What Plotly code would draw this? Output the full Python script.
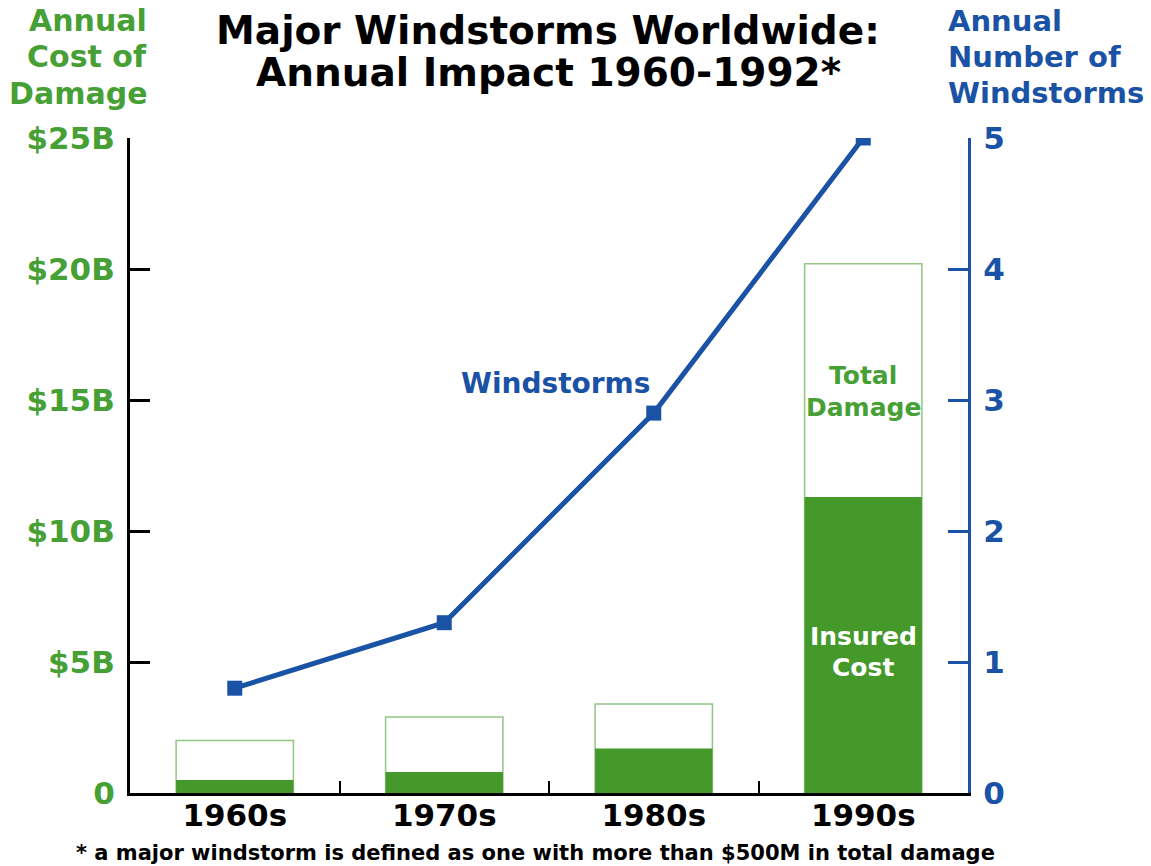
import plotly.graph_objects as go

decades = ["1960s", "1970s", "1980s", "1990s"]
total_damage = [2.0, 2.9, 3.4, 20.2]      # $B
insured_cost = [0.5, 0.8, 1.7, 11.3]      # $B
windstorms = [0.8, 1.3, 2.9, 5.0]         # annual number
left_ticks = [0, 5, 10, 15, 20, 25]
left_ticktext = ["0", "$5B", "$10B", "$15B", "$20B", "$25B"]
right_ticks = [0, 1, 2, 3, 4, 5]

GREEN = "#44992a"
GREEN_TXT = "#46a035"
BLUE = "#1a52a6"
FONT = "DejaVu Sans"

fig = go.Figure()
fig.add_trace(go.Bar(x=decades, y=total_damage, width=0.56,
                     marker=dict(color="white", line=dict(color="#93c585", width=1.5)),
                     showlegend=False, hoverinfo="skip"))
fig.add_trace(go.Bar(x=decades, y=insured_cost, width=0.56,
                     marker=dict(color=GREEN, line=dict(width=0)),
                     showlegend=False))
fig.add_trace(go.Scatter(x=decades, y=windstorms, yaxis="y2", mode="lines+markers",
                         line=dict(color=BLUE, width=5),
                         marker=dict(symbol="square", size=15, color=BLUE),
                         showlegend=False))

fig.update_layout(
    width=1151, height=866,
    margin=dict(l=130, r=183, t=138, b=73),
    paper_bgcolor="white", plot_bgcolor="white",
    barmode="overlay",
    font=dict(family=FONT, weight="bold"),
    xaxis=dict(type="category", range=[-0.5, 3.5], showline=True, linecolor="black",
               linewidth=3, ticks="inside", tickson="boundaries", ticklen=12,
               tickwidth=2, tickcolor="black", showgrid=False, ticklabelstandoff=-7,
               tickfont=dict(size=31, color="black", family=FONT, weight="bold")),
    yaxis=dict(range=[0, 25], tickvals=left_ticks, ticktext=left_ticktext,
               showline=True, linecolor="black", linewidth=3, ticks="inside",
               ticklen=20, tickwidth=3, tickcolor="black", showgrid=False,
               zeroline=False, ticklabelstandoff=6,
               tickfont=dict(size=31, color=GREEN_TXT, family=FONT, weight="bold")),
    yaxis2=dict(range=[0, 5], tickvals=right_ticks, overlaying="y", side="right",
                showline=True, linecolor=BLUE, linewidth=3, ticks="inside",
                ticklen=20, tickwidth=3, tickcolor=BLUE, showgrid=False,
                zeroline=False, ticklabelstandoff=6,
                tickfont=dict(size=31, color=BLUE, family=FONT, weight="bold")),
)

# (text, x_px, y_px, anchor, size, color)
paper_texts = [
    ("Major Windstorms Worldwide:", 548, 31, "center", 39, "black"),
    ("Annual Impact 1960-1992*", 548, 73, "center", 39, "black"),
    ("Annual", 149, 21, "right", 30, GREEN_TXT),
    ("Cost of", 149, 57, "right", 30, GREEN_TXT),
    ("Damage", 149, 93, "right", 30, GREEN_TXT),
    ("Annual", 946, 21, "left", 29, BLUE),
    ("Number of", 946, 57, "left", 29, BLUE),
    ("Windstorms", 946, 93, "left", 29, BLUE),
    ("* a major windstorm is defined as one with more than $500M in total damage",
     535, 853, "center", 21, "black"),
]
for t, xp, yp, anc, sz, col in paper_texts:
    fig.add_annotation(xref="paper", yref="paper", showarrow=False,
                       x=(xp - 130) / 838, y=(793 - yp) / 655,
                       xanchor=anc, yanchor="middle", text=t,
                       font=dict(family=FONT, weight="bold", size=sz, color=col))

# in-plot labels (text, x, y_px, size, color)
plot_texts = [
    ("Total", "1990s", 375, 25, GREEN_TXT),
    ("Damage", "1990s", 407, 25, GREEN_TXT),
    ("Insured", "1990s", 636, 25, "white"),
    ("Cost", "1990s", 667, 25, "white"),
]
for t, xv, yp, sz, col in plot_texts:
    fig.add_annotation(x=xv, y=(793 - yp) / 26.2, text=t, showarrow=False,
                       font=dict(family=FONT, weight="bold", size=sz, color=col))
fig.add_annotation(x=1.53, y=(793 - 383) / 26.2, xref="x", yref="y", text="Windstorms",
                   showarrow=False,
                   font=dict(family=FONT, weight="bold", size=28, color=BLUE))

fig.write_html("out.html")
